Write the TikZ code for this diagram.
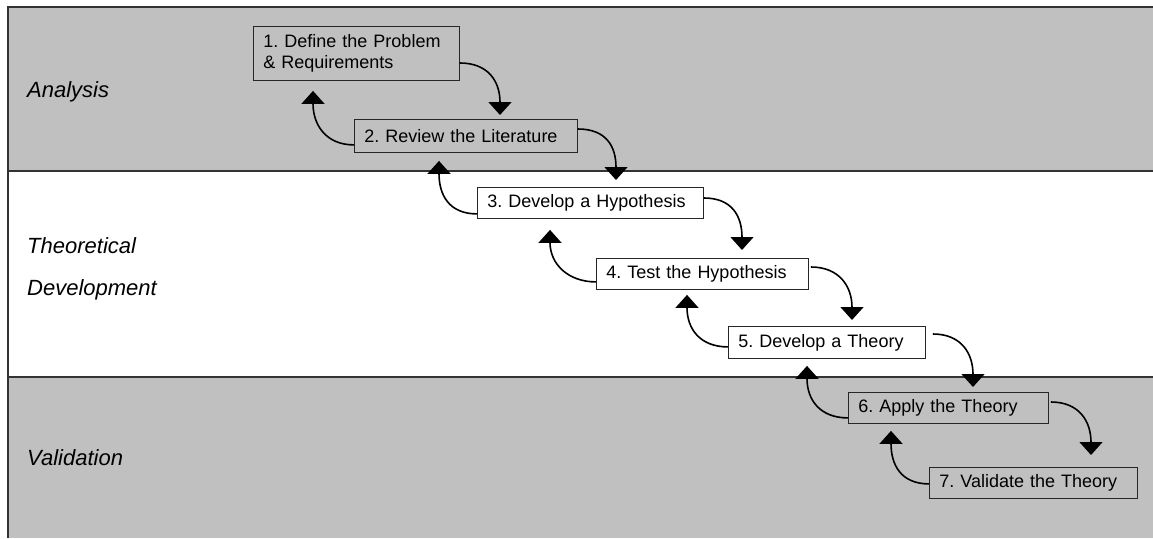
\documentclass[tikz,border=0pt]{standalone}
\usepackage{fontspec}
\setmainfont{Liberation Sans}
\frenchspacing
\usetikzlibrary{arrows.meta}
\definecolor{bandgray}{HTML}{C0C0C0}
\definecolor{rule}{HTML}{333333}
\tikzset{
  stepbox/.style={draw=black!85, line width=0.9pt, anchor=north west, inner xsep=10pt,
    inner ysep=0pt, align=left, font=\fontsize{18}{21}\selectfont},
  phase/.style={anchor=base west, inner sep=0pt, font=\fontsize{22}{24}\itshape},
  arr/.style={line width=1.6pt, -{Triangle[width=23pt,length=13pt]}},
}
\begin{document}
\begin{tikzpicture}[x=1pt,y=-1pt]
\useasboundingbox (0,0) rectangle (1153,538);
% phase bands
\fill[bandgray] (8,7) rectangle (1153,171);
\fill[white] (8,171) rectangle (1153,377);
\fill[bandgray] (8,377) rectangle (1153,538);
\draw[rule, line width=1.4pt] (1153,7) -- (8,7) -- (8,538);
\draw[rule, line width=1.4pt] (8,171) -- (1153,171);
\draw[rule, line width=1.4pt] (8,377) -- (1153,377);
% phase labels
\node[phase] (pa) at (27,97) {Analysis};
\node[phase] (pt1) at (27,253) {Theoretical};
\node[phase] (pt2) at (27,295) {Development};
\node[phase] (pv) at (27,465) {Validation};
% steps
\node[stepbox, minimum width=206pt, minimum height=54pt, text width=186pt] (b1) at (253,26) {1. Define the Problem\\\& Requirements};
\node[stepbox, minimum width=223pt, minimum height=33pt, text width=203pt] (b2) at (354,119) {2. Review the Literature};
\node[stepbox, minimum width=226pt, minimum height=31pt, text width=206pt] (b3) at (477,187) {3. Develop a Hypothesis};
\node[stepbox, minimum width=212pt, minimum height=31pt, text width=192pt] (b4) at (596,258) {4. Test the Hypothesis};
\node[stepbox, minimum width=197pt, minimum height=32pt, text width=177pt] (b5) at (728,326) {5. Develop a Theory};
\node[stepbox, minimum width=200pt, minimum height=31pt, text width=180pt] (b6) at (848,392) {6. Apply the Theory};
\node[stepbox, minimum width=208pt, minimum height=31pt, text width=188pt] (b7) at (929,467) {7. Validate the Theory};
% forward flow
\draw[arr] ([yshift=-37pt]b1.north east) .. controls +(28,0) and +(0,-34) .. ([xshift=146pt,yshift=4pt]b2.north west);
\draw[arr] ([yshift=-10pt]b2.north east) .. controls +(28,0) and +(0,-34) .. ([xshift=139pt,yshift=7pt]b3.north west);
\draw[arr] ([yshift=-11pt]b3.north east) .. controls +(28,0) and +(0,-34) .. ([xshift=146pt,yshift=8pt]b4.north west);
\draw[arr] ([xshift=2pt,yshift=-9pt]b4.north east) .. controls +(28,0) and +(0,-34) .. ([xshift=124pt,yshift=6pt]b5.north west);
\draw[arr] ([xshift=7pt,yshift=-8pt]b5.north east) .. controls +(28,0) and +(0,-34) .. ([xshift=125pt,yshift=5pt]b6.north west);
\draw[arr] ([xshift=2pt,yshift=-10pt]b6.north east) .. controls +(28,0) and +(0,-34) .. ([xshift=162pt,yshift=12pt]b7.north west);
% feedback
\draw[arr] ([yshift=8pt]b2.south west) .. controls +(-28,0) and +(0,34) .. ([xshift=60pt,yshift=-10pt]b1.south west);
\draw[arr] ([yshift=5pt]b3.south west) .. controls +(-28,0) and +(0,34) .. ([xshift=85pt,yshift=-8pt]b2.south west);
\draw[arr] ([yshift=8pt]b4.south west) .. controls +(-28,0) and +(0,34) .. ([xshift=73pt,yshift=-11pt]b3.south west);
\draw[arr] ([yshift=12pt]b5.south west) .. controls +(-28,0) and +(0,34) .. ([xshift=91pt,yshift=-5pt]b4.south west);
\draw[arr] ([yshift=6pt]b6.south west) .. controls +(-28,0) and +(0,34) .. ([xshift=79pt,yshift=-7pt]b5.south west);
\draw[arr] ([yshift=15pt]b7.south west) .. controls +(-28,0) and +(0,34) .. ([xshift=43pt,yshift=-7pt]b6.south west);
\end{tikzpicture}
\end{document}
